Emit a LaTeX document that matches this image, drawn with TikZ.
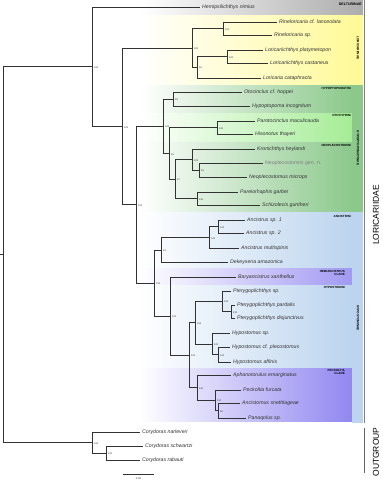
\documentclass[tikz,border=0pt]{standalone}
\usepackage{fontspec}
\setmainfont{Liberation Sans}
\definecolor{cgray}{RGB}{172,172,172}
\definecolor{cyel}{RGB}{255,249,150}
\definecolor{cgreen}{RGB}{140,200,140}
\definecolor{clgreen}{RGB}{165,236,150}
\definecolor{cblue}{RGB}{188,212,238}
\definecolor{cpurple}{RGB}{145,135,240}
\definecolor{cbr}{RGB}{50,50,50}
\tikzset{
  br/.style={draw=cbr,line width=0.8pt},
  leaf/.style={anchor=west,inner xsep=2pt,inner ysep=0pt,font=\fontsize{5.2}{6}\selectfont\itshape,text=cbr},
  bs/.style={anchor=west,inner sep=0pt,xshift=2pt,yshift=-0.8pt,font=\fontsize{2.4}{3}\selectfont,text=cbr},
  blab/.style={anchor=north east,inner sep=0pt,align=right,font=\fontsize{3}{3.4}\selectfont\bfseries},
  slab/.style={inner sep=0pt,rotate=-90,font=\fontsize{3.2}{3.6}\selectfont\bfseries},
  big/.style={inner sep=0pt,rotate=90,font=\fontsize{8.5}{9}\selectfont}
}
\begin{document}
\begin{tikzpicture}[x=1pt,y=-1pt]
\useasboundingbox (0,0) rectangle (383,480);
% bands
\shade[left color=white,right color=cgray] (140,0) rectangle (363,15);
\shade[left color=white,right color=cyel] (140,15) rectangle (363,85);
\shade[left color=white,right color=cgreen] (140,85) rectangle (352,113);
\shade[left color=white,right color=clgreen] (140,113) rectangle (352,142);
\shade[left color=white,right color=cgreen] (140,142) rectangle (352,212);
\fill[cgreen] (352,85) rectangle (363,212);
\shade[left color=white,right color=cblue] (140,212) rectangle (352,268);
\shade[left color=white,right color=cpurple!85] (140,268) rectangle (352,285);
\shade[left color=white,right color=cblue] (140,285) rectangle (352,368);
\shade[left color=white,right color=cpurple] (140,368) rectangle (352,421);
\fill[cblue] (352,212) rectangle (363,423);
\draw[gray,line width=0.9pt] (364,0) -- (364,423);
\draw[gray!80!black,line width=0.9pt] (364,428) -- (364,473);
% band labels
\node[blab,font=\fontsize{3.6}{4}\selectfont\bfseries] (lDel) at (362,2.5) {DELTURINAE};
\node[blab] (lHyi) at (351,87) {HYPOPTOPOMATINI};
\node[blab] (lOto) at (351,114.5) {OTOTHYRINI};
\node[blab] (lNeo) at (351,144.5) {NEOPLECOSTOMINI};
\node[blab] (lAnc) at (351,215) {ANCISTRINI};
\node[blab] (lHem) at (345,270) {HEMIANCISTRUS\\CLADE};
\node[blab] (lHys) at (345,286.5) {HYPOSTOMINI};
\node[blab] (lPec) at (345,369) {PECKOLTIA\\CLADE};
\node[slab] (sLor) at (358,48) {LORICARIINAE};
\node[slab] (sHyp) at (358,148) {HYPOPTOPOMATINAE};
\node[slab] (sHys) at (358,318) {HYPOSTOMINAE};
\node[big] (bLor) at (376,215) {LORICARIIDAE};
\node[big] (bOut) at (376,452) {OUTGROUP};
% internal nodes
\coordinate (root) at (3,254.6);
\coordinate (r0) at (0,254.6);
\coordinate (A) at (92,66.7);
\coordinate (OG) at (92,442.5);
\coordinate (OG2) at (106,453);
\coordinate (B) at (122,126.4);
\coordinate (LL) at (192,47.9);
\coordinate (RN) at (223,28.5);
\coordinate (LA) at (197,67.3);
\coordinate (LB) at (227,56.5);
\coordinate (C) at (136,204.8);
\coordinate (D) at (163,126.3);
\coordinate (E) at (173,99);
\coordinate (F) at (169,153.5);
\coordinate (G) at (217,127.5);
\coordinate (H) at (175,179);
\coordinate (I) at (192,159.5);
\coordinate (K) at (199,170);
\coordinate (J) at (197,198.5);
\coordinate (L) at (154,283);
\coordinate (M) at (161,250);
\coordinate (N) at (209,237.5);
\coordinate (O) at (218,226.5);
\coordinate (P) at (170,316);
\coordinate (Q) at (189,355);
\coordinate (R) at (195,322.5);
\coordinate (U) at (222,301);
\coordinate (V) at (231,311.5);
\coordinate (W) at (212,344);
\coordinate (X) at (218,354.5);
\coordinate (S) at (197,387.5);
\coordinate (Y) at (215,400);
\coordinate (Z) at (218,410.5);
% leaves
\node[leaf] (hemi) at (200,7) {Hemipsilichthys nimius};
\node[leaf] (rin1) at (277,22) {Rineloricaria cf. lanceolata};
\node[leaf] (rin2) at (272,35) {Rineloricaria sp.};
\node[leaf] (lpla) at (263,50) {Loricariichthys platymetopon};
\node[leaf] (lcas) at (268,63) {Loricariichthys castaneus};
\node[leaf] (lcat) at (261,78) {Loricaria cataphracta};
\node[leaf] (oto) at (242,92) {Otocinclus cf. hoppei};
\node[leaf] (hyp) at (250,106) {Hypoptopoma incognitum};
\node[leaf] (par) at (255,121) {Parotocinclus maculicauda};
\node[leaf] (his) at (253,134) {Hisonotus thayeri};
\node[leaf] (kro) at (255,149) {Kronichthys heylandi};
\node[leaf,font=\fontsize{5.2}{6}\selectfont,text=gray] (neo1) at (263,163) {Neoplecostomini gen. n.};
\node[leaf] (neo2) at (247,177) {Neoplecostomus microps};
\node[leaf] (pare) at (238,192) {Pareiorhaphis garbei};
\node[leaf] (schi) at (260,205) {Schizolecis guntheri};
\node[leaf] (anc1) at (245,220) {Ancistrus sp. 1};
\node[leaf] (anc2) at (244,233) {Ancistrus sp. 2};
\node[leaf] (amul) at (239,248) {Ancistrus multispinis};
\node[leaf] (dek) at (228,262) {Dekeyseria amazonica};
\node[leaf] (bary) at (236,277) {Baryancistrus xanthellus};
\node[leaf] (pte1) at (231,291) {Pterygoplichthys sp.};
\node[leaf] (pte2) at (235,305) {Pterygoplichthys pardalis};
\node[leaf] (pte3) at (235,318) {Pterygoplichthys disjunctivus};
\node[leaf] (hys) at (230,333) {Hypostomus sp.};
\node[leaf] (hyc) at (230,347) {Hypostomus cf. plecostomus};
\node[leaf] (hya) at (231,362) {Hypostomus affinis};
\node[leaf] (aph) at (231,375) {Aphanotorulus emarginatus};
\node[leaf] (pec) at (241,390) {Peckoltia furcata};
\node[leaf] (ancs) at (240,403) {Ancistomus snethlageae};
\node[leaf] (pan) at (246,418) {Panaqolus sp.};
\node[leaf] (cn) at (140,432) {Corydoras narleveri};
\node[leaf] (cs) at (143,446) {Corydoras schwartzi};
\node[leaf] (cr) at (140,460) {Corydoras rabauti};
% branches
\draw[br] (r0) -- (root);
\draw[br] (root) |- (A); \draw[br] (root) |- (OG);
\draw[br] (A) |- (hemi.west); \draw[br] (A) |- (B);
\draw[br] (B) |- (LL); \draw[br] (B) |- (C);
\draw[br] (LL) |- (RN); \draw[br] (LL) |- (LA);
\draw[br] (RN) |- (rin1.west); \draw[br] (RN) |- (rin2.west);
\draw[br] (LA) |- (LB); \draw[br] (LA) |- (lcat.west);
\draw[br] (LB) |- (lpla.west); \draw[br] (LB) |- (lcas.west);
\draw[br] (C) |- (D); \draw[br] (C) |- (L);
\draw[br] (D) |- (E); \draw[br] (D) |- (F);
\draw[br] (E) |- (oto.west); \draw[br] (E) |- (hyp.west);
\draw[br] (F) |- (G); \draw[br] (F) |- (H);
\draw[br] (G) |- (par.west); \draw[br] (G) |- (his.west);
\draw[br] (H) |- (I); \draw[br] (H) |- (J);
\draw[br] (I) |- (kro.west); \draw[br] (I) |- (K);
\draw[br] (K) |- (neo1.west); \draw[br] (K) |- (neo2.west);
\draw[br] (J) |- (pare.west); \draw[br] (J) |- (schi.west);
\draw[br] (L) |- (M); \draw[br] (L) |- (P);
\draw[br] (M) |- (N); \draw[br] (M) |- (dek.west);
\draw[br] (N) |- (O); \draw[br] (N) |- (amul.west);
\draw[br] (O) |- (anc1.west); \draw[br] (O) |- (anc2.west);
\draw[br] (P) |- (bary.west); \draw[br] (P) |- (Q);
\draw[br] (Q) |- (R); \draw[br] (Q) |- (S);
\draw[br] (R) |- (U); \draw[br] (R) |- (W);
\draw[br] (U) |- (pte1.west); \draw[br] (U) |- (V);
\draw[br] (V) |- (pte2.west); \draw[br] (V) |- (pte3.west);
\draw[br] (W) |- (hys.west); \draw[br] (W) |- (X);
\draw[br] (X) |- (hyc.west); \draw[br] (X) |- (hya.west);
\draw[br] (S) |- (aph.west); \draw[br] (S) |- (Y);
\draw[br] (Y) |- (pec.west); \draw[br] (Y) |- (Z);
\draw[br] (Z) |- (ancs.west); \draw[br] (Z) |- (pan.west);
\draw[br] (OG) |- (cn.west); \draw[br] (OG) |- (OG2);
\draw[br] (OG2) |- (cs.west); \draw[br] (OG2) |- (cr.west);
% supports
\foreach \n/\v in {A/100,B/100,C/100,LL/100,RN/100,LA/96,LB/100,D/100,E/99,F/99,G/100,H/87,I/100,K/99,J/100,L/100,M/62,N/100,O/100,P/100,Q/100,R/100,U/100,V/100,W/100,X/100,S/100,Y/100,Z/96,OG/100,OG2/100}
  \node[bs] at (\n) {\v};
% scale bar
\coordinate (sb1) at (123,474);
\coordinate (sb2) at (154,474);
\draw[br,line width=0.6pt] (sb1) -- (sb2);
\node[font=\fontsize{2.6}{3}\selectfont,inner sep=0pt,text=cbr] (sbl) at (138.5,478.5) {0.05};
\end{tikzpicture}
\end{document}
